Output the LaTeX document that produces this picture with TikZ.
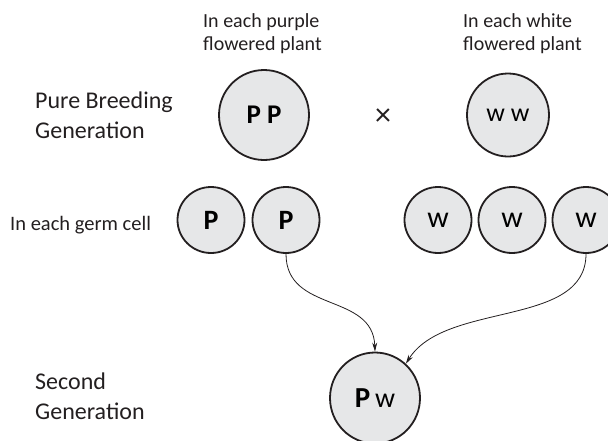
\documentclass[tikz,border=0pt]{standalone}
\usepackage{fontspec}
\setmainfont{Carlito}
\usepackage{tikz}
\usetikzlibrary{shapes.geometric, arrows.meta}

\definecolor{cellgray}{HTML}{E6E7E8}
\definecolor{ink}{HTML}{231F20}

\begin{document}
\begin{tikzpicture}[x=1pt, y=1pt,
  plant/.style={ellipse, draw=ink, line width=1.8pt, fill=cellgray,
                minimum width=90pt, minimum height=90pt, inner sep=0pt},
  germ/.style={ellipse, draw=ink, line width=1.8pt, fill=cellgray,
               minimum width=67pt, minimum height=66pt, inner sep=0pt},
  lbl/.style={align=left, anchor=base west, inner sep=0pt,
              font=\fontsize{24}{29.5}\selectfont, text=ink},
  head/.style={lbl, font=\fontsize{20}{23}\selectfont},
  arrow/.style={-{Stealth[length=9pt, width=5pt]}, line width=0.8pt, draw=ink}
]
\useasboundingbox (0,0) rectangle (608,-440);

%% Row labels (base = last line)
\node[head] at (203,-50)  (hpurple) {In each purple\\flowered plant};
\node[head] at (463,-50)  (hwhite)  {In each white\\flowered plant};
\node[lbl]  at (35,-138)  (pure)    {Pure Breeding\\Generation};
\node[lbl, font=\fontsize{20.5}{24}\selectfont] at (10,-230) (germlbl) {In each germ cell};
\node[lbl]  at (35,-419)  (second)  {Second\\Generation};

%% Parent plants
\node[plant] at (264,-115) (pp) {\fontsize{27}{30}\selectfont\bfseries P P};
\node[plant, minimum width=82pt, minimum height=83pt] at (508,-115) (ww)
  {\fontsize{26}{28}\selectfont w w};
\node[text=ink, font=\fontsize{32}{34}\selectfont] at (383,-117) (cross) {×};

%% Germ cells
\node[germ] at (211,-220) (gp1) {\fontsize{28}{30}\selectfont\bfseries P};
\node[germ] at (286,-220) (gp2) {\fontsize{28}{30}\selectfont\bfseries P};
\node[germ] at (438,-220) (gw1) {\fontsize{30}{32}\selectfont w};
\node[germ] at (512,-220) (gw2) {\fontsize{30}{32}\selectfont w};
\node[germ] at (586,-220) (gw3) {\fontsize{30}{32}\selectfont w};

%% Second generation
\node[plant, minimum height=91pt] at (375,-398) (pw)
  {\fontsize{29}{32}\selectfont\bfseries P\,\mdseries\fontsize{28}{30}\selectfont w};

%% Arrows
\draw[arrow] (gp2.south) to[out=-90, in=92, looseness=1.15] (pw.north);
\draw[arrow] (gw3.south) to[out=-90, in=58, looseness=0.9] (pw.48);
\end{tikzpicture}
\end{document}
